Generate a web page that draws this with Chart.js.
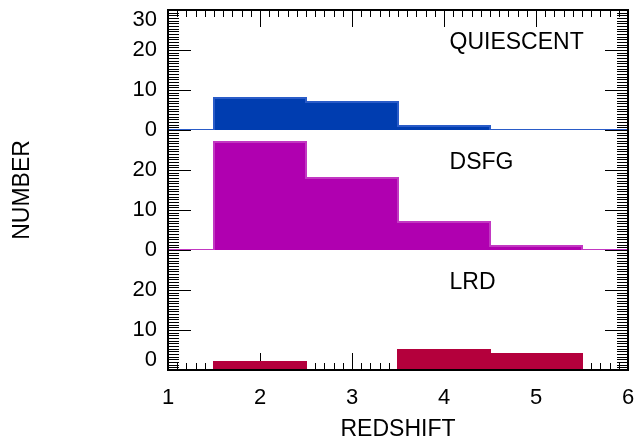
<!DOCTYPE html>
<html>
<head>
<meta charset="utf-8">
<script src="https://cdn.jsdelivr.net/npm/chart.js"></script>
<style>
  html, body { margin: 0; padding: 0; background: #fff; }
  canvas { display: block; }
</style>
</head>
<body>
<canvas id="chart" width="644" height="443"></canvas>
<script>
// histogram bins (bin centres), one count per bin
const redshift = [1, 2, 3, 4, 5, 6];
const quiescent = [0, 8, 7, 1, 0, 0];
const dsfg = [0, 27, 18, 7, 1, 0];
const lrd = [0, 2, 0, 5, 4, 0];

const panelNames = ['QUIESCENT', 'DSFG', 'LRD'];
const panelColors = ['#003db0', '#b000b0', '#b4003c'];
const panelBorders = ['#2a5cc8', '#c238c2', '#b4003c'];
const panelAxes = ['yQ', 'yD', 'yL'];

const FONT = 'Liberation Sans, Arial, sans-serif';

const toPoints = vals => redshift.map((x, i) => ({ x: x, y: vals[i] }));

const series = [quiescent, dsfg, lrd];

const datasets = series.map((vals, i) => ({
  label: panelNames[i],
  data: toPoints(vals),
  yAxisID: panelAxes[i],
  stepped: 'middle',
  fill: 'origin',
  backgroundColor: panelColors[i],
  borderColor: panelBorders[i],
  borderWidth: 2,
  pointRadius: 0
}));

// ticks drawn inward like the original plot
const frameTicks = {
  id: 'frameTicks',
  beforeDatasetsDraw(chart) {
    const { ctx, chartArea: a, scales } = chart;
    ctx.save();
    ctx.strokeStyle = '#000';
    ctx.lineWidth = 1;
    ctx.beginPath();
    const x = scales.x;
    for (let i = 0; i <= 50; i++) {
      const px = Math.round(x.getPixelForValue(1 + i / 10)) + 0.5;
      const len = i % 10 === 0 ? 17 : 7;
      ctx.moveTo(px, a.top); ctx.lineTo(px, a.top + len);
      ctx.moveTo(px, a.bottom); ctx.lineTo(px, a.bottom - len);
    }
    panelAxes.forEach(id => {
      const s = scales[id];
      for (let i = 0; i <= 45; i++) {
        const py = Math.round(s.getPixelForValue(i * 2 / 3)) + 0.5;
        const len = i % 15 === 0 ? 23 : 11;
        ctx.moveTo(a.left, py); ctx.lineTo(a.left + len, py);
        ctx.moveTo(a.right, py); ctx.lineTo(a.right - len, py);
      }
    });
    ctx.stroke();
    ctx.restore();
  },
  afterDatasetsDraw(chart) {
    const { ctx, chartArea: a, scales } = chart;
    ctx.save();
    ctx.strokeStyle = '#000';
    ctx.lineWidth = 2;
    ctx.beginPath();
    ctx.moveTo(a.left, a.top); ctx.lineTo(a.right, a.top);
    ctx.moveTo(a.left, a.bottom); ctx.lineTo(a.right, a.bottom);
    ctx.moveTo(a.left, a.top - 1); ctx.lineTo(a.left, a.bottom + 1);
    ctx.moveTo(a.right, a.top - 1); ctx.lineTo(a.right, a.bottom + 1);
    ctx.stroke();

    ctx.fillStyle = '#000';
    ctx.font = '23px ' + FONT;
    ctx.textAlign = 'left';
    ctx.textBaseline = 'middle';
    panelAxes.forEach((id, i) => {
      ctx.fillText(panelNames[i], scales.x.getPixelForValue(4.06), scales[id].getPixelForValue(21.8));
    });
    ctx.restore();
  }
};

function yAxis(order, labelFn, title) {
  return {
    type: 'linear',
    position: 'left',
    stack: 'panels',
    stackWeight: 1,
    weight: order,
    min: 0,
    max: 30,
    grid: { display: false, drawTicks: false },
    border: { display: false },
    ticks: {
      stepSize: 10,
      autoSkip: false,
      padding: 11,
      color: '#000',
      font: { family: FONT, size: 22, lineHeight: '20px' },
      callback: labelFn
    },
    title: title ? {
      display: true,
      text: title,
      color: '#000',
      align: 'center',
      padding: { top: 9, bottom: 0 },
      font: { family: FONT, size: 23, lineHeight: 1.2 }
    } : { display: false },
    afterFit(s) {
      s.width = 168;
      s.paddingTop = 0;
      s.paddingBottom = 0;
    }
  };
}

new Chart(document.getElementById('chart'), {
  type: 'line',
  data: { datasets: datasets },
  plugins: [frameTicks],
  options: {
    responsive: false,
    animation: false,
    layout: { padding: { top: 10, right: 16, left: 0, bottom: 0 } },
    plugins: {
      legend: { display: false },
      tooltip: { enabled: false }
    },
    scales: {
      x: {
        type: 'linear',
        position: 'bottom',
        min: 1,
        max: 6,
        grid: { display: false, drawTicks: false },
        border: { display: false },
        ticks: {
          stepSize: 1,
          padding: 15,
          color: '#000',
          maxRotation: 0,
          font: { family: FONT, size: 22 }
        },
        title: {
          display: true,
          text: 'REDSHIFT',
          color: '#000',
          padding: { top: 0, bottom: 0 },
          font: { family: FONT, size: 23, lineHeight: 1.2 }
        },
        afterFit(s) {
          s.height = 73;
          s.paddingLeft = 0;
          s.paddingRight = 0;
        }
      },
      yQ: yAxis(3, v => (v === 30 ? ['', '30'] : String(v))),
      yD: yAxis(2, v => (v === 30 ? '' : String(v)), 'NUMBER'),
      yL: yAxis(1, v => (v === 30 ? '' : v === 0 ? ['0', ''] : String(v)))
    }
  }
});
</script>
</body>
</html>
